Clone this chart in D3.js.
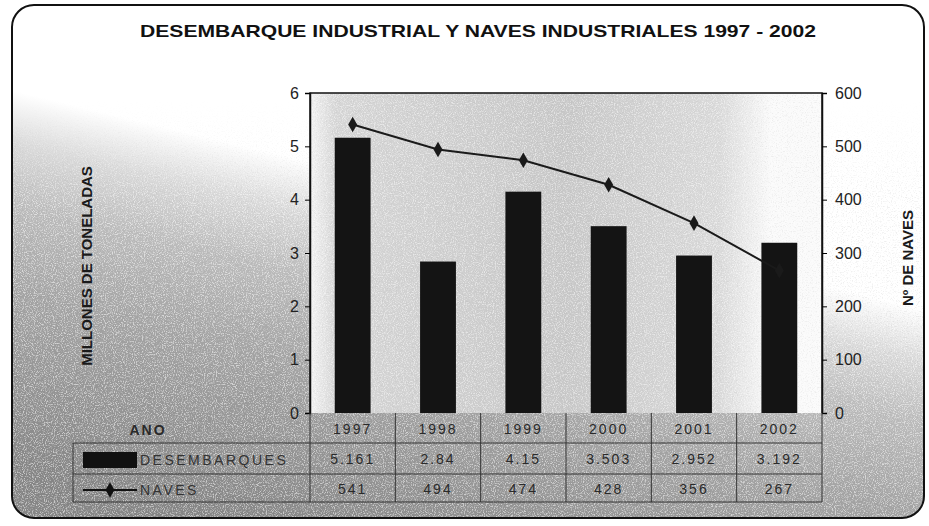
<!DOCTYPE html>
<html>
<head>
<meta charset="utf-8">
<script src="https://cdn.jsdelivr.net/npm/d3@7"></script>
<style>
  body { margin: 0; background: #fff; }
  svg { display: block; font-family: "Liberation Sans", Arial, sans-serif; }
</style>
</head>
<body>
<svg width="929" height="526"></svg>
<script>
// data
var years = ['1997', '1998', '1999', '2000', '2001', '2002'];
var desembarques = [5.161, 2.84, 4.15, 3.503, 2.952, 3.192];
var desembarquesLabels = ['5.161', '2.84', '4.15', '3.503', '2.952', '3.192'];
var naves = [541, 494, 474, 428, 356, 267];
var leftTicks = [0, 1, 2, 3, 4, 5, 6];
var rightTicks = [0, 100, 200, 300, 400, 500, 600];

var svg = d3.select('svg');
var defs = svg.append('defs');

// plot box
var plot = {l: 310, r: 822, t: 93, b: 413};

// background gradient (dark lower left, white top) + speckles like the scan
var bg = defs.append('linearGradient').attr('id', 'bgGrad')
    .attr('gradientUnits', 'userSpaceOnUse')
    .attr('x1', 250).attr('y1', 526).attr('x2', 350).attr('y2', 110);
bg.append('stop').attr('offset', 0).attr('stop-color', '#858585');
bg.append('stop').attr('offset', 0.4).attr('stop-color', '#a4a4a4');
bg.append('stop').attr('offset', 0.6).attr('stop-color', '#bcbcbc');
bg.append('stop').attr('offset', 0.74).attr('stop-color', '#dadada');
bg.append('stop').attr('offset', 0.86).attr('stop-color', '#ffffff');

// fade the speckles in below the title area
var mg = defs.append('linearGradient').attr('id', 'maskGrad')
    .attr('gradientUnits', 'userSpaceOnUse')
    .attr('x1', 0).attr('y1', 100).attr('x2', 0).attr('y2', 200);
mg.append('stop').attr('offset', 0).attr('stop-color', '#000');
mg.append('stop').attr('offset', 1).attr('stop-color', '#fff');
defs.append('mask').attr('id', 'speckMask')
    .attr('maskUnits', 'userSpaceOnUse')
    .attr('x', 0).attr('y', 0).attr('width', 929).attr('height', 526)
  .append('rect').attr('x', 0).attr('y', 0).attr('width', 929).attr('height', 526)
    .attr('fill', 'url(#maskGrad)');

var pg = defs.append('linearGradient').attr('id', 'plotGrad')
    .attr('x1', 0).attr('y1', 0).attr('x2', 1).attr('y2', 0);
pg.append('stop').attr('offset', 0).attr('stop-color', '#f4f4f4');
pg.append('stop').attr('offset', 0.05).attr('stop-color', '#d6d6d6');
pg.append('stop').attr('offset', 0.5).attr('stop-color', '#c8c8c8');
pg.append('stop').attr('offset', 0.8).attr('stop-color', '#dadada');
pg.append('stop').attr('offset', 0.9).attr('stop-color', '#fafafa');

// white speckles
var fw = defs.append('filter').attr('id', 'speckW')
    .attr('x', 0).attr('y', 0).attr('width', 1).attr('height', 1);
fw.append('feTurbulence').attr('type', 'fractalNoise')
    .attr('baseFrequency', 0.9).attr('numOctaves', 2).attr('seed', 3);
fw.append('feColorMatrix').attr('type', 'matrix')
    .attr('values', '0 0 0 0 1  0 0 0 0 1  0 0 0 0 1  4 0 0 0 -1.9');
// dark speckles
var fd = defs.append('filter').attr('id', 'speckD')
    .attr('x', 0).attr('y', 0).attr('width', 1).attr('height', 1);
fd.append('feTurbulence').attr('type', 'fractalNoise')
    .attr('baseFrequency', 0.8).attr('numOctaves', 2).attr('seed', 11);
fd.append('feColorMatrix').attr('type', 'matrix')
    .attr('values', '0 0 0 0 0.3  0 0 0 0 0.3  0 0 0 0 0.3  -4 0 0 0 1.9');

defs.append('clipPath').attr('id', 'frameClip')
  .append('rect').attr('x', 12).attr('y', 5).attr('width', 912).attr('height', 513).attr('rx', 22);

var bgLayer = svg.append('g').attr('clip-path', 'url(#frameClip)');
bgLayer.append('rect').attr('x', 0).attr('y', 0).attr('width', 929).attr('height', 526)
    .attr('fill', 'url(#bgGrad)');
var speckLayer = bgLayer.append('g').attr('mask', 'url(#speckMask)');
speckLayer.append('rect').attr('x', 0).attr('y', 0).attr('width', 929).attr('height', 526)
    .attr('fill', '#fff').attr('filter', 'url(#speckW)').attr('opacity', 0.55);
speckLayer.append('rect').attr('x', 0).attr('y', 0).attr('width', 929).attr('height', 526)
    .attr('fill', '#000').attr('filter', 'url(#speckD)').attr('opacity', 0.15);

svg.append('rect').attr('x', 12).attr('y', 5).attr('width', 912).attr('height', 513).attr('rx', 22)
    .attr('fill', 'none').attr('stroke', '#111').attr('stroke-width', 2);

// plot area
svg.append('rect').attr('x', plot.l).attr('y', plot.t)
    .attr('width', plot.r - plot.l).attr('height', plot.b - plot.t)
    .attr('fill', 'url(#plotGrad)');
svg.append('rect').attr('x', plot.l).attr('y', plot.t)
    .attr('width', plot.r - plot.l).attr('height', plot.b - plot.t)
    .attr('fill', '#fff').attr('filter', 'url(#speckW)').attr('opacity', 0.5);
svg.append('rect').attr('x', plot.l).attr('y', plot.t)
    .attr('width', plot.r - plot.l).attr('height', plot.b - plot.t)
    .attr('fill', '#000').attr('filter', 'url(#speckD)').attr('opacity', 0.12);

// scales
var x = d3.scaleBand().domain(years).range([plot.l, plot.r])
    .paddingInner(0.58).paddingOuter(0.29);
var yL = d3.scaleLinear().domain([0, 6]).range([plot.b, plot.t]);
var yR = d3.scaleLinear().domain([0, 600]).range([plot.b, plot.t]);

// bars
svg.selectAll('rect.bar')
    .data(desembarques)
    .enter()
    .append('rect')
    .attr('class', 'bar')
    .attr('x', function(d, i) { return x(years[i]); })
    .attr('y', function(d) { return yL(d); })
    .attr('width', x.bandwidth())
    .attr('height', function(d) { return plot.b - yL(d); })
    .attr('fill', '#141414');

// line + diamond markers
var line = d3.line()
    .x(function(d, i) { return x(years[i]) + x.bandwidth() / 2; })
    .y(function(d) { return yR(d); });
svg.append('path').datum(naves)
    .attr('d', line)
    .attr('fill', 'none').attr('stroke', '#1a1a1a').attr('stroke-width', 2);
var diamond = d3.symbol().type(d3.symbolDiamond).size(70);
svg.selectAll('path.mark')
    .data(naves)
    .enter()
    .append('path')
    .attr('class', 'mark')
    .attr('d', diamond)
    .attr('transform', function(d, i) {
        return 'translate(' + (x(years[i]) + x.bandwidth() / 2) + ',' + yR(d) + ')';
    })
    .attr('fill', '#1a1a1a');

// plot frame (top + sides)
svg.append('path')
    .attr('d', 'M' + plot.l + ',' + plot.b + 'V' + plot.t + 'H' + plot.r + 'V' + plot.b)
    .attr('fill', 'none').attr('stroke', '#111').attr('stroke-width', 1.5);

// axes
var leftAxis = d3.axisLeft(yL).tickValues(leftTicks).tickFormat(d3.format('d'))
    .tickSize(5).tickPadding(6);
var gL = svg.append('g').attr('transform', 'translate(' + plot.l + ',0)').call(leftAxis);
gL.select('.domain').attr('stroke', '#111').attr('stroke-width', 1.5);
gL.selectAll('text').attr('font-size', '16px').attr('fill', '#222')
    .attr('font-family', '"Liberation Sans", Arial, sans-serif');

var rightAxis = d3.axisRight(yR).tickValues(rightTicks).tickFormat(d3.format('d'))
    .tickSize(5).tickPadding(8);
var gR = svg.append('g').attr('transform', 'translate(' + plot.r + ',0)').call(rightAxis);
gR.select('.domain').attr('stroke', '#111').attr('stroke-width', 1.5);
gR.selectAll('text').attr('font-size', '16px').attr('fill', '#222')
    .attr('font-family', '"Liberation Sans", Arial, sans-serif');

// title
svg.append('text')
    .attr('x', 140).attr('y', 37)
    .attr('textLength', 676).attr('lengthAdjust', 'spacingAndGlyphs')
    .attr('font-size', '17px').attr('font-weight', 'bold').attr('fill', '#111')
    .text('DESEMBARQUE INDUSTRIAL Y NAVES INDUSTRIALES 1997 - 2002');

// axis titles
svg.append('text')
    .attr('transform', 'translate(92,266) rotate(-90)')
    .attr('text-anchor', 'middle')
    .attr('font-size', '15px').attr('font-weight', 'bold').attr('fill', '#1a1a1a')
    .text('MILLONES DE TONELADAS');
svg.append('text')
    .attr('transform', 'translate(913,258) rotate(-90)')
    .attr('text-anchor', 'middle')
    .attr('font-size', '15px').attr('font-weight', 'bold').attr('fill', '#1a1a1a')
    .text('Nº DE NAVES');

// data table under the plot
var tbl = {l: 73, r1: 443, r2: 474, b: 502};
var tg = svg.append('g').attr('stroke', '#333').attr('stroke-width', 1).attr('fill', 'none');
tg.append('line').attr('x1', tbl.l).attr('x2', plot.r).attr('y1', tbl.r1).attr('y2', tbl.r1);
tg.append('line').attr('x1', tbl.l).attr('x2', plot.r).attr('y1', tbl.r2).attr('y2', tbl.r2);
tg.append('line').attr('x1', tbl.l).attr('x2', plot.r).attr('y1', tbl.b).attr('y2', tbl.b);
tg.append('line').attr('x1', tbl.l).attr('x2', tbl.l).attr('y1', tbl.r1).attr('y2', tbl.b);
var step = x.step();
years.forEach(function(yr, i) {
    var cx = x(yr) + x.bandwidth() / 2;
    tg.append('line').attr('x1', cx - step / 2).attr('x2', cx - step / 2)
        .attr('y1', plot.b).attr('y2', tbl.b);
});
tg.append('line').attr('x1', plot.r).attr('x2', plot.r).attr('y1', plot.b).attr('y2', tbl.b);

var txt = svg.append('g').attr('font-size', '14px').attr('fill', '#2a2a2a')
    .attr('letter-spacing', '2px').attr('text-anchor', 'middle');
txt.append('text').attr('x', 148).attr('y', 435).attr('font-weight', 'bold').text('ANO');
years.forEach(function(yr, i) {
    var cx = x(yr) + x.bandwidth() / 2;
    txt.append('text').attr('x', cx).attr('y', 434).text(yr);
    txt.append('text').attr('x', cx).attr('y', 464).text(desembarquesLabels[i]);
    txt.append('text').attr('x', cx).attr('y', 494).text(naves[i]);
});

// legend keys in the table
svg.append('rect').attr('x', 83).attr('y', 452).attr('width', 54).attr('height', 16).attr('fill', '#111');
svg.append('line').attr('x1', 83).attr('x2', 137).attr('y1', 490).attr('y2', 490)
    .attr('stroke', '#111').attr('stroke-width', 2);
svg.append('path').attr('d', diamond).attr('transform', 'translate(110,490)').attr('fill', '#111');
svg.append('text').attr('x', 140).attr('y', 465).attr('font-size', '14px').attr('fill', '#333')
    .attr('letter-spacing', '2.5px').text('DESEMBARQUES');
svg.append('text').attr('x', 140).attr('y', 495).attr('font-size', '14px').attr('fill', '#333')
    .attr('letter-spacing', '2.5px').text('NAVES');
</script>
</body>
</html>
